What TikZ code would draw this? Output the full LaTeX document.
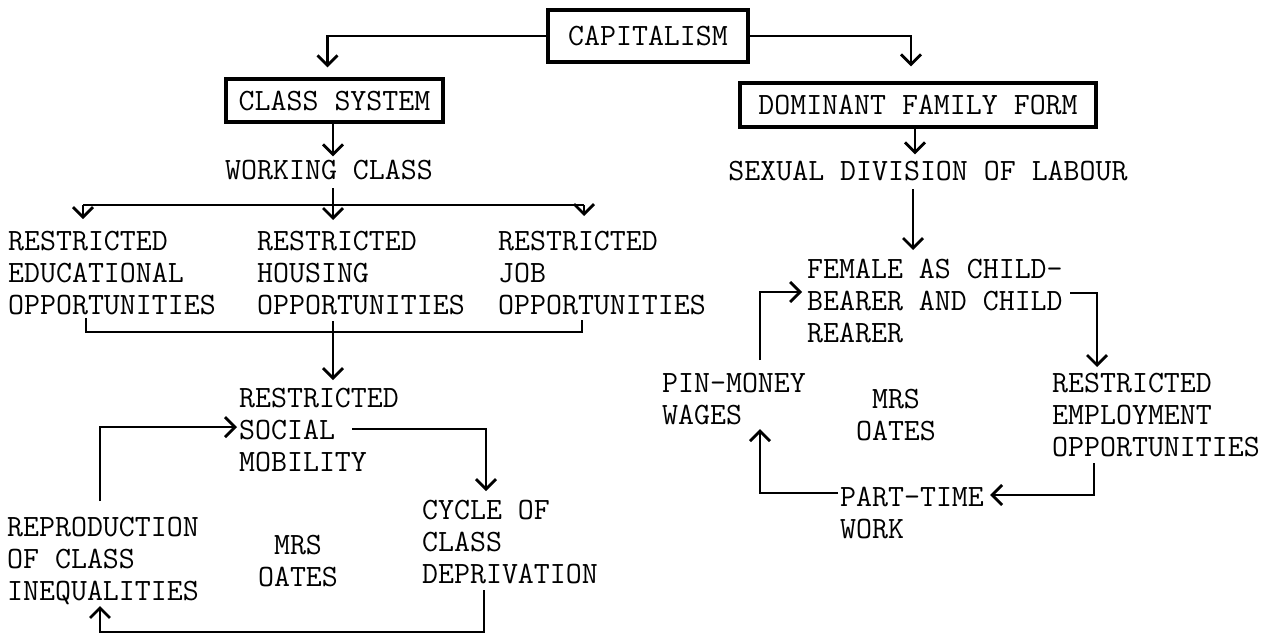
\documentclass[tikz,border=0pt]{standalone}
\usetikzlibrary{arrows.meta}
\begin{document}
\begin{tikzpicture}[x=1pt,y=-1pt,
  txt/.style={font=\fontsize{31}{32}\selectfont\ttfamily, inner sep=0pt, align=left, anchor=north west},
  ctxt/.style={txt, align=center, anchor=north},
  box/.style={draw, line width=3.4pt, font=\fontsize{31}{32}\selectfont\ttfamily, inner sep=0pt},
  conn/.style={line width=2.8pt},
  arr/.style={conn, -{Straight Barb[length=10pt,width=20pt]}}]
\fill[white] (0,0) rectangle (1274,640);
\useasboundingbox (0,0) rectangle (1274,640);

% boxes
\node[box, minimum width=200pt, minimum height=52pt] (cap) at (648,36) {CAPITALISM};
\node[box, minimum width=217pt, minimum height=43pt] (cls) at (334.5,100.5) {CLASS SYSTEM};
\node[box, minimum width=356pt, minimum height=44pt] (dom) at (918,105) {DOMINANT FAMILY FORM};

% texts
\node[txt, anchor=center] (wc) at (329,170) {WORKING CLASS};
\node[txt, anchor=center] (sdl) at (928,171) {SEXUAL DIVISION OF LABOUR};
\node[txt] (edu) at (8,231) {RESTRICTED\\EDUCATIONAL\\OPPORTUNITIES};
\node[txt] (hou) at (257,231) {RESTRICTED\\HOUSING\\OPPORTUNITIES};
\node[txt] (job) at (498,231) {RESTRICTED\\JOB\\OPPORTUNITIES};
\node[txt] (soc) at (239,388) {RESTRICTED\\SOCIAL\\MOBILITY};
\node[txt] (rep) at (7,517) {REPRODUCTION\\OF CLASS\\INEQUALITIES};
\node[txt] (cyc) at (422,500) {CYCLE OF\\CLASS\\DEPRIVATION};
\node[ctxt] (mrsA) at (298,535) {MRS\\OATES};
\node[txt] (fem) at (807,259) {FEMALE AS CHILD-\\BEARER AND CHILD\\REARER};
\node[txt] (emp) at (1052,373) {RESTRICTED\\EMPLOYMENT\\OPPORTUNITIES};
\node[txt] (ptw) at (840,487) {PART-TIME\\WORK};
\node[txt] (pin) at (662,373) {PIN-MONEY\\WAGES};
\node[ctxt] (mrsB) at (896,389) {MRS\\OATES};

% top connectors
\draw[arr] (cap.west) -| ([xshift=-7pt,yshift=10pt]cls.north);
\draw[arr] (cap.east) -| ([xshift=-7pt,yshift=15pt]dom.north);
\draw[arr, shorten >=3.5pt] ([xshift=-1.5pt]cls.south) -- ([xshift=-1.5pt]cls.south |- wc.north);
\draw[arr, shorten >=6.5pt] ([xshift=-3pt]dom.south) -- ([xshift=-3pt]dom.south |- sdl.north);

% working class split
\coordinate (jm) at (333,205);
\coordinate (jl) at (83,205);
\coordinate (jr) at (584,205);
\draw[conn] ([yshift=-8pt]wc.south -| jm) -- (jm);
\draw[conn] (jl) -- (jr);
\draw[arr, shorten >=12pt] (jl) -- (jl |- edu.north);
\draw[arr, shorten >=11pt] (jm) -- (jm |- hou.north);
\draw[arr, shorten >=15pt] (jr) -- (jr |- job.north);

% bracket to social mobility
\coordinate (bl) at (86,318);
\coordinate (bm) at (333,321);
\coordinate (br) at (582,320);
\draw[conn] (bl) -- ++(0,14) -| (br);
\draw[arr, shorten >=8pt] (bm) -- (bm |- soc.north);

% left cycle
\draw[arr] ([xshift=93pt,yshift=16pt]rep.north west) |- ([xshift=-2pt,yshift=3pt]soc.west);
\draw[arr] ([xshift=113pt,yshift=1pt]soc.west) -| ([xshift=64pt,yshift=9pt]cyc.north west);
\coordinate (cycB) at (484,590);
\coordinate (repB) at (100,606);
\draw[arr] (cycB) -- ++(0,42) -| (repB);

% right cycle
\draw[arr, shorten >=9pt] ([xshift=-15pt,yshift=-8pt]sdl.south) -- ([xshift=-15pt]sdl.south |- fem.north);
\draw[arr] ([xshift=263pt,yshift=-34pt]fem.north west) -| ([xshift=45pt,yshift=6pt]emp.north west);
\draw[arr] ([xshift=42pt,yshift=-6pt]emp.south west) |- ([xshift=6pt,yshift=-8pt]ptw.north east);
\draw[arr] ([xshift=-2pt,yshift=-6pt]ptw.north west) -| ([xshift=98pt,yshift=-4pt]pin.south west);
\draw[arr] ([xshift=98pt,yshift=13pt]pin.north west) |- ([xshift=-5pt,yshift=-33pt]fem.north west);
\end{tikzpicture}
\end{document}
